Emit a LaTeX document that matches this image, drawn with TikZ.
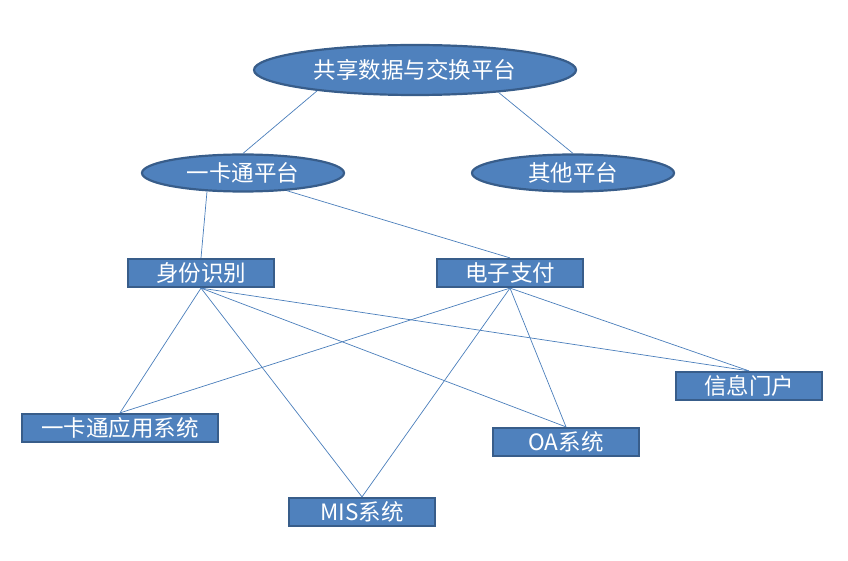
\documentclass[tikz,border=0pt]{standalone}
\usepackage{fontspec}
\usepackage{xcolor}
\usepackage{tikz}
\setmainfont{Noto Sans CJK SC}
\definecolor{boxfill}{RGB}{79,129,189}
\definecolor{boxline}{RGB}{56,93,138}
\definecolor{linkline}{RGB}{74,126,187}
\usetikzlibrary{shapes.geometric}

\begin{document}
\begin{tikzpicture}[x=1pt,y=-1pt,
    plat/.style={ellipse,draw=boxline,fill=boxfill,line width=2.2pt,text=white,inner sep=0pt,font=\fontsize{22.5}{26}\selectfont},
    sys/.style={rectangle,draw=boxline,fill=boxfill,line width=2.2pt,text=white,inner sep=0pt,minimum width=146pt,minimum height=28pt,font=\fontsize{22.5}{26}\selectfont},
    link/.style={draw=linkline,line width=0.7pt}]
    \useasboundingbox (0,0) rectangle (848,561);
    % platforms
    \node[plat,minimum width=322pt,minimum height=50pt] (share) at (415,70) {共享数据与交换平台};
    \node[plat,minimum width=202pt,minimum height=37pt] (card) at (243,173) {一卡通平台};
    \node[plat,minimum width=202pt,minimum height=37pt] (other) at (573,173) {其他平台};
    % services
    \node[sys] (ident) at (201,273) {身份识别};
    \node[sys] (pay) at (510,273) {电子支付};
    % systems
    \node[sys] (portal) at (749,386) {信息门户};
    \node[sys,minimum width=196pt] (cardapp) at (120,428) {一卡通应用系统};
    \node[sys] (oa) at (566,442) {OA系统};
    \node[sys] (mis) at (362,512) {MIS系统};
    % links
    \foreach \a/\b in {share.192/card.north, share.345/other.north,
        card.207/ident.north, card.338/pay.north,
        ident.south/cardapp.north, ident.south/mis.north, ident.south/oa.north, ident.south/portal.north,
        pay.south/cardapp.north, pay.south/mis.north, pay.south/oa.north, pay.south/portal.north} {
        \draw[link] (\a) -- (\b);
    }
\end{tikzpicture}
\end{document}
